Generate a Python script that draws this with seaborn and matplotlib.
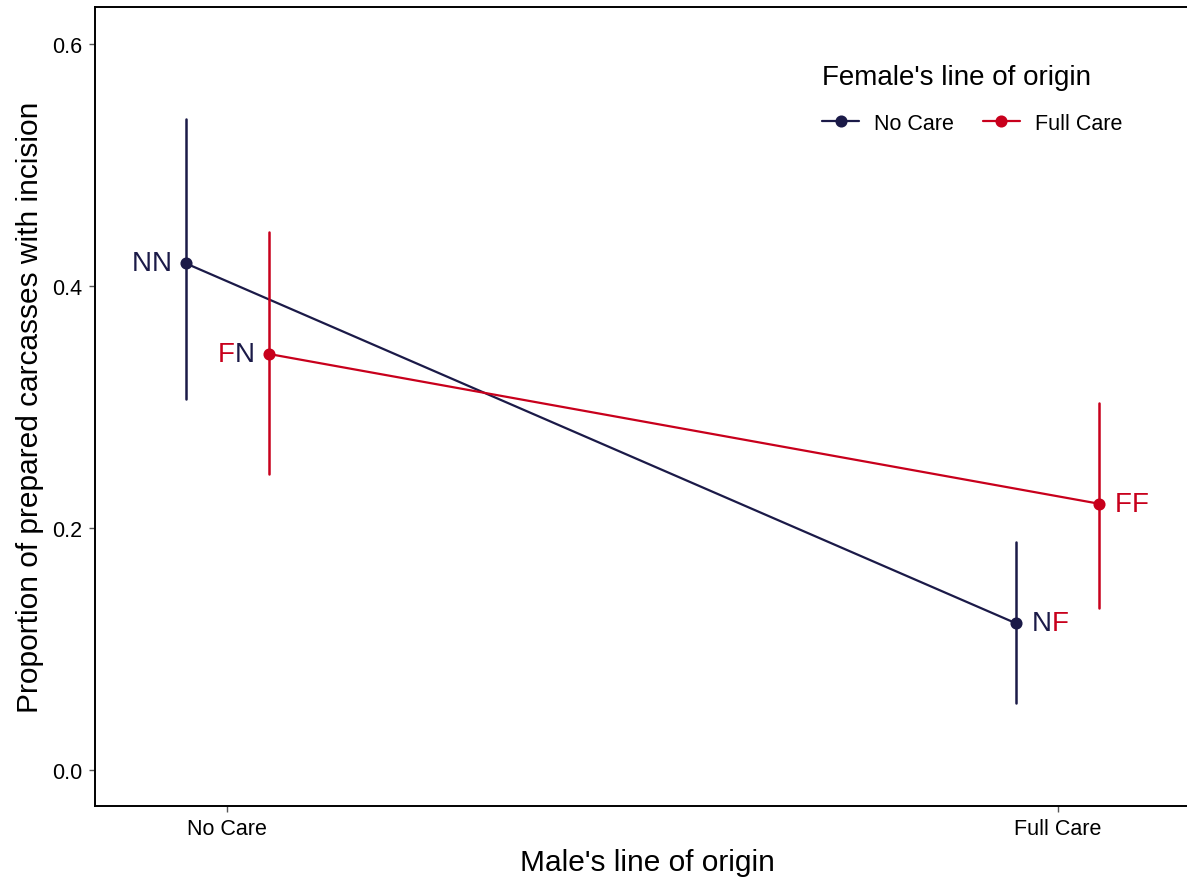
import matplotlib
matplotlib.use("Agg")
import matplotlib.pyplot as plt
import seaborn as sns
import pandas as pd

# ---- data ----
categories = ["No Care", "Full Care"]
male_origin = ["No Care", "No Care", "Full Care", "Full Care"]
female_origin = ["No Care", "Full Care", "No Care", "Full Care"]
proportion = [0.419, 0.344, 0.121, 0.220]
ci_low = [0.307, 0.245, 0.055, 0.134]
ci_high = [0.538, 0.445, 0.188, 0.303]
group_labels = ["NN", "FN", "NF", "FF"]
y_ticks = [0.0, 0.2, 0.4, 0.6]

navy = "#1b1a48"
red = "#c8001c"
colors = {"No Care": navy, "Full Care": red}

# long table: lower bound, estimate, upper bound per group
rows = []
for m, f, lo, est, hi in zip(male_origin, female_origin, ci_low, proportion, ci_high):
    for v in (lo, est, hi):
        rows.append({"male": m, "female": f, "value": v})
df = pd.DataFrame(rows)

sns.set_style("white")
plt.rcParams["font.family"] = ["Liberation Sans", "DejaVu Sans"]
plt.rcParams["text.color"] = "black"
plt.rcParams["axes.labelcolor"] = "black"
plt.rcParams["xtick.labelcolor"] = "black"
plt.rcParams["ytick.labelcolor"] = "black"

fig = plt.figure(figsize=(11.87, 8.78), dpi=100)
ax = fig.add_axes([95 / 1187, 71 / 878, (1200 - 95) / 1187, 799 / 878])

sns.pointplot(
    data=df, x="male", y="value", hue="female",
    order=categories, hue_order=categories,
    palette=[navy, red],
    estimator="median", errorbar=("pi", 100),
    dodge=0.1, markers="o", markersize=7.5, linewidth=1.6,
    err_kws={"linewidth": 1.8},
    ax=ax,
)

ax.set_xlim(-0.159, 1.171)
ax.set_ylim(-0.030, 0.631)
ax.set_yticks(y_ticks)
ax.set_yticklabels([f"{t:.1f}" for t in y_ticks])

ax.set_xlabel("Male's line of origin", fontsize=21.5, labelpad=6, color="black")
ax.set_ylabel("Proportion of prepared carcasses with incision", fontsize=21.5,
              labelpad=6, color="black")
ax.tick_params(axis="both", labelsize=15.5, length=4, width=1, color="#555555",
               labelcolor="black", direction="out", left=True, bottom=True, pad=5)

for side in ["left", "bottom", "top"]:
    ax.spines[side].set_visible(True)
    ax.spines[side].set_color("black")
    ax.spines[side].set_linewidth(1.4)
ax.spines["right"].set_visible(False)

# legend
sns.move_legend(
    ax, "upper left", bbox_to_anchor=(803 / 1187, 1 - 46 / 878),
    bbox_transform=fig.transFigure,
    ncol=2, title="Female's line of origin", frameon=False,
    fontsize=15.5, title_fontsize=20, alignment="left",
    handlelength=1.7, handletextpad=0.7, columnspacing=1.35,
)
leg = ax.get_legend()
leg._legend_box.sep = 16
leg.get_title().set_color("black")
for t in leg.get_texts():
    t.set_color("black")

# point labels, taken from the drawn point positions
fig.canvas.draw()
marker_lines = [l for l in ax.lines if l.get_marker() not in ("None", "", None, " ")]
points = {}
for fem, line in zip(categories, marker_lines):
    for (x, y) in line.get_xydata():
        points[(fem, round(y, 3))] = (x, y)

initial = {"No Care": "N", "Full Care": "F"}
for m, f, est in zip(male_origin, female_origin, proportion):
    x, y = points[(f, round(est, 3))]
    c1, c2 = colors[f], colors[m]
    ch1, ch2 = initial[f], initial[m]
    if m == categories[0]:
        t2 = ax.annotate(ch2, xy=(x, y), xytext=(-10, 0), textcoords="offset points",
                         ha="right", va="center", color=c2, fontsize=20)
        ax.annotate(ch1, xy=(0, 0.5), xycoords=t2, ha="right", va="center",
                    color=c1, fontsize=20)
    else:
        t1 = ax.annotate(ch1, xy=(x, y), xytext=(11, 0), textcoords="offset points",
                         ha="left", va="center", color=c1, fontsize=20)
        ax.annotate(ch2, xy=(1, 0.5), xycoords=t1, ha="left", va="center",
                    color=c2, fontsize=20)

fig.savefig("out.png", dpi=100)
